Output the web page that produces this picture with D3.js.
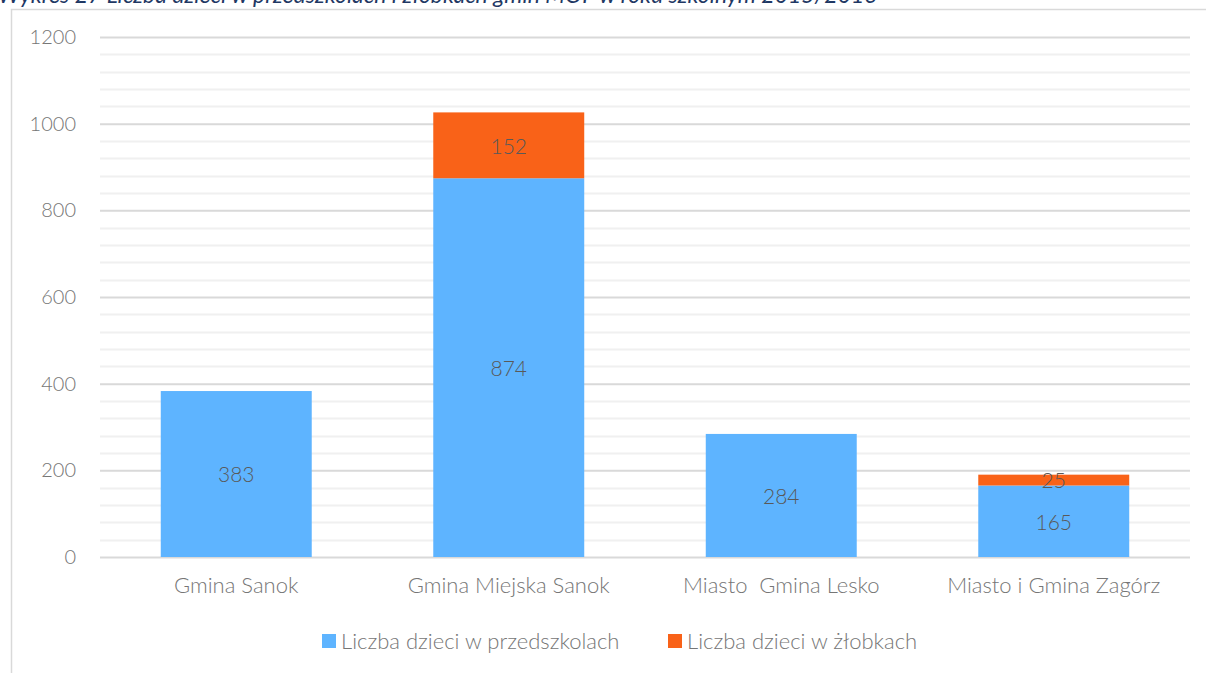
<!DOCTYPE html>
<html>
<head>
<meta charset="utf-8">
<script src="https://cdn.jsdelivr.net/npm/d3@7"></script>
<style>
    body { margin: 0; background: white; }
    svg text { font-family: "Lato", "Open Sans", sans-serif; font-weight: 300; }
</style>
</head>
<body>
<div id="chart"></div>
<script>
var categories = ["Gmina Sanok", "Gmina Miejska Sanok", "Miasto  Gmina Lesko", "Miasto i Gmina Zagórz"];
var przedszkola = [383, 874, 284, 165];
var zlobki = [0, 152, 0, 25];
var seriesNames = ["Liczba dzieci w przedszkolach", "Liczba dzieci w żłobkach"];
var seriesColors = ["#5eb4ff", "#f96218"];
var yTicks = [0, 200, 400, 600, 800, 1000, 1200];
var chartTitle = "Wykres 27 Liczba dzieci w przedszkolach i żłobkach gmin MOF w roku szkolnym 2015/2016";

var width = 1206, height = 673;
var plotLeft = 100, plotRight = 1190, plotTop = 37, plotBottom = 557;

var svg = d3.select("#chart").append("svg")
    .attr("width", width).attr("height", height);

// title sits half outside the picture, like in the source document
svg.append("text")
    .attr("x", -2).attr("y", 3)
    .style("font-style", "italic").style("font-weight", 400)
    .style("font-size", "23px").style("fill", "#1f3864")
    .text(chartTitle);

// chart frame
svg.append("rect")
    .attr("x", 11.5).attr("y", 9.5).attr("width", 1300).attr("height", 800)
    .style("fill", "none").style("stroke", "#d9d9d9").style("stroke-width", 1.5);

var x = d3.scaleBand().domain(categories).range([plotLeft, plotRight]).paddingInner(0.446).paddingOuter(0.223);
var y = d3.scaleLinear().domain([0, 1200]).range([plotBottom, plotTop]);

// minor gridlines every 40
var minorTicks = d3.range(40, 1200, 40).filter(function (d) { return d % 200 !== 0; });
svg.append("g").selectAll("line").data(minorTicks).enter().append("line")
    .attr("x1", plotLeft).attr("x2", plotRight)
    .attr("y1", function (d) { return Math.round(y(d)) + 0.5; })
    .attr("y2", function (d) { return Math.round(y(d)) + 0.5; })
    .style("stroke", "#f0f0f0").style("stroke-width", 2);

var yAxis = svg.append("g").attr("transform", "translate(" + plotLeft + ",0)")
    .call(d3.axisLeft(y).tickValues(yTicks).tickFormat(d3.format("d"))
        .tickSize(-(plotRight - plotLeft)).tickPadding(24));
yAxis.select(".domain").remove();
yAxis.selectAll(".tick line").style("stroke", "#d9d9d9").style("stroke-width", 2);
yAxis.selectAll(".tick text").style("font-size", "20px").style("fill", "#767676");

var stacked = categories.map(function (c, i) {
    return { cat: c, segs: [
        { s: 0, y0: 0, y1: przedszkola[i], v: przedszkola[i] },
        { s: 1, y0: przedszkola[i], y1: przedszkola[i] + zlobki[i], v: zlobki[i] }
    ] };
});

var groups = svg.append("g").selectAll("g").data(stacked).enter().append("g")
    .attr("transform", function (d) { return "translate(" + x(d.cat) + ",0)"; });

groups.selectAll("rect").data(function (d) { return d.segs.filter(function (s) { return s.v > 0; }); })
    .enter().append("rect")
    .attr("x", 0).attr("width", x.bandwidth())
    .attr("y", function (s) { return y(s.y1); })
    .attr("height", function (s) { return y(s.y0) - y(s.y1); })
    .style("fill", function (s) { return seriesColors[s.s]; });

groups.selectAll("text").data(function (d) { return d.segs.filter(function (s) { return s.v > 0; }); })
    .enter().append("text")
    .attr("x", x.bandwidth() / 2)
    .attr("y", function (s) { return (y(s.y0) + y(s.y1)) / 2 + 1; })
    .attr("dy", "0.35em").attr("text-anchor", "middle")
    .style("font-size", "21px").style("fill", "#595959")
    .text(function (s) { return s.v; });

var xAxis = svg.append("g").attr("transform", "translate(0," + plotBottom + ")")
    .call(d3.axisBottom(x).tickSize(0).tickPadding(20));
xAxis.select(".domain").remove();
xAxis.selectAll(".tick text").style("font-size", "22px").style("fill", "#767676")
    .style("white-space", "pre");

// legend
var legendItems = [{ x: 322, name: seriesNames[0], color: seriesColors[0] },
    { x: 668, name: seriesNames[1], color: seriesColors[1] }];
var legend = svg.append("g").selectAll("g").data(legendItems).enter().append("g")
    .attr("transform", function (d) { return "translate(" + d.x + ",634)"; });
legend.append("rect").attr("width", 14).attr("height", 14)
    .style("fill", function (d) { return d.color; });
legend.append("text").attr("x", 19).attr("y", 7).attr("dy", "0.35em")
    .style("font-size", "22px").style("fill", "#767676")
    .text(function (d) { return d.name; });
</script>
</body>
</html>
